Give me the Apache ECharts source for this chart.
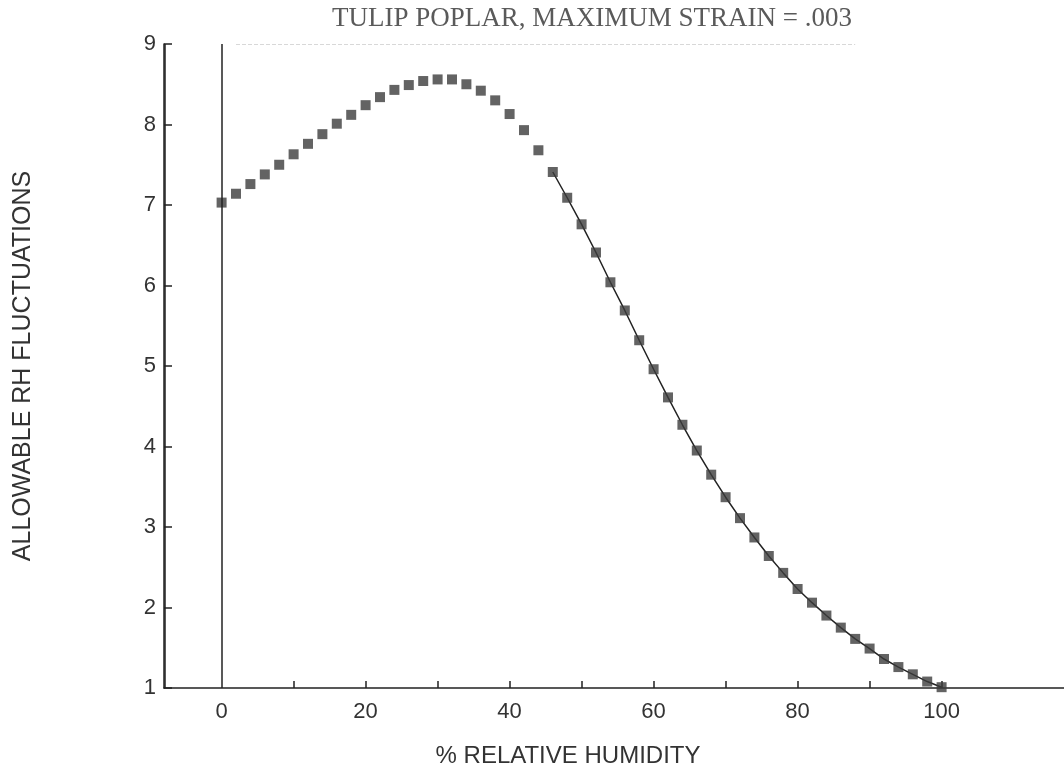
<!DOCTYPE html>
<html>
<head>
<meta charset="utf-8">
<script src="https://cdn.jsdelivr.net/npm/echarts@6/dist/echarts.min.js"></script>
<style>html,body{margin:0;padding:0;background:#fff;}#c{width:1064px;height:773px;}</style>
</head>
<body>
<div id="c"></div>
<script>
const titleText = 'TULIP POPLAR, MAXIMUM STRAIN = .003';
const xName = '% RELATIVE HUMIDITY';
const yName = 'ALLOWABLE RH FLUCTUATIONS';
const rh = [0,2,4,6,8,10,12,14,16,18,20,22,24,26,28,30,32,34,36,38,40,42,44,46,48,50,52,54,56,58,60,62,64,66,68,70,72,74,76,78,80,82,84,86,88,90,92,94,96,98,100];
const allowable = [7.03,7.14,7.26,7.38,7.50,7.63,7.76,7.88,8.01,8.12,
  8.24,8.34,8.43,8.49,8.54,8.56,8.56,8.50,8.42,8.30,
  8.13,7.93,7.68,7.41,7.09,6.76,6.41,6.04,5.69,5.32,
  4.96,4.61,4.27,3.95,3.65,3.37,3.11,2.87,2.64,2.43,
  2.23,2.06,1.90,1.75,1.61,1.49,1.36,1.26,1.17,1.08,1.01];
const xTicks = [10,20,30,40,50,60,70,80,90,100];
const xLabels = [0,20,40,60,80,100];
const xMin = -8, xMax = 117, yMin = 1, yMax = 9;
const lineStartRH = 46;

const pts = rh.map((x, i) => [x, allowable[i]]);
const linePts = pts.filter(p => p[0] >= lineStartRH);
const sans = "'Liberation Sans', Arial, Helvetica, sans-serif";
const solid = {color: '#222', width: 1.5, type: 'solid'};

const chart = echarts.init(document.getElementById('c'), null, {renderer: 'canvas'});
chart.setOption({
  animation: false,
  backgroundColor: '#fff',
  title: {
    text: titleText,
    left: 587,
    top: 0,
    textAlign: 'center',
    textStyle: {fontFamily: "'Liberation Serif', 'Times New Roman', serif", fontSize: 27, fontWeight: 'normal', color: '#5a5a5a'}
  },
  grid: {left: 164, right: 0, top: 44, bottom: 85, show: true, borderWidth: 0},
  xAxis: {
    type: 'value', min: xMin, max: xMax,
    name: xName, nameLocation: 'middle', nameGap: 56,
    nameTextStyle: {fontFamily: sans, fontSize: 24, color: '#333', padding: [0, 92, 0, 0]},
    axisLine: {show: true, onZero: false, lineStyle: {color: '#222', width: 1.5}},
    axisTick: {show: true, inside: true, length: 7, customValues: xTicks, lineStyle: {color: '#222', width: 1.5}},
    axisLabel: {customValues: xLabels, fontFamily: sans, fontSize: 22, color: '#333', margin: 13},
    splitLine: {show: false}
  },
  yAxis: [{
    type: 'value', min: yMin, max: yMax, interval: 1, position: 'left',
    name: yName, nameLocation: 'middle', nameGap: 128,
    nameTextStyle: {fontFamily: sans, fontSize: 25, color: '#333'},
    axisLine: {show: true, onZero: false, lineStyle: {color: '#222', width: 1.5}},
    axisTick: {show: true, inside: true, length: 8, lineStyle: {color: '#222', width: 1.5}},
    axisLabel: {fontFamily: sans, fontSize: 22, color: '#333', margin: 8},
    splitLine: {show: false}
  }],
  series: [
    {
      type: 'line', data: linePts, symbol: 'none', z: 2, clip: false,
      lineStyle: {color: '#222', width: 1.5},
      markLine: {
        silent: true, symbol: 'none', label: {show: false}, z: 5,
        data: [
          [{coord: [-7.9, yMin], lineStyle: solid}, {coord: [-7.9, yMax]}],
          [{coord: [0, yMin], lineStyle: solid}, {coord: [0, yMax]}],
          [{coord: [2, yMax], lineStyle: {color: '#d8d8d8', width: 1, type: 'dashed'}}, {coord: [88, yMax]}]
        ]
      }
    },
    {
      type: 'scatter', data: pts, symbol: 'rect', symbolSize: 10, z: 3,
      itemStyle: {color: '#3c3c3c'}
    }
  ]
});
</script>
</body>
</html>
